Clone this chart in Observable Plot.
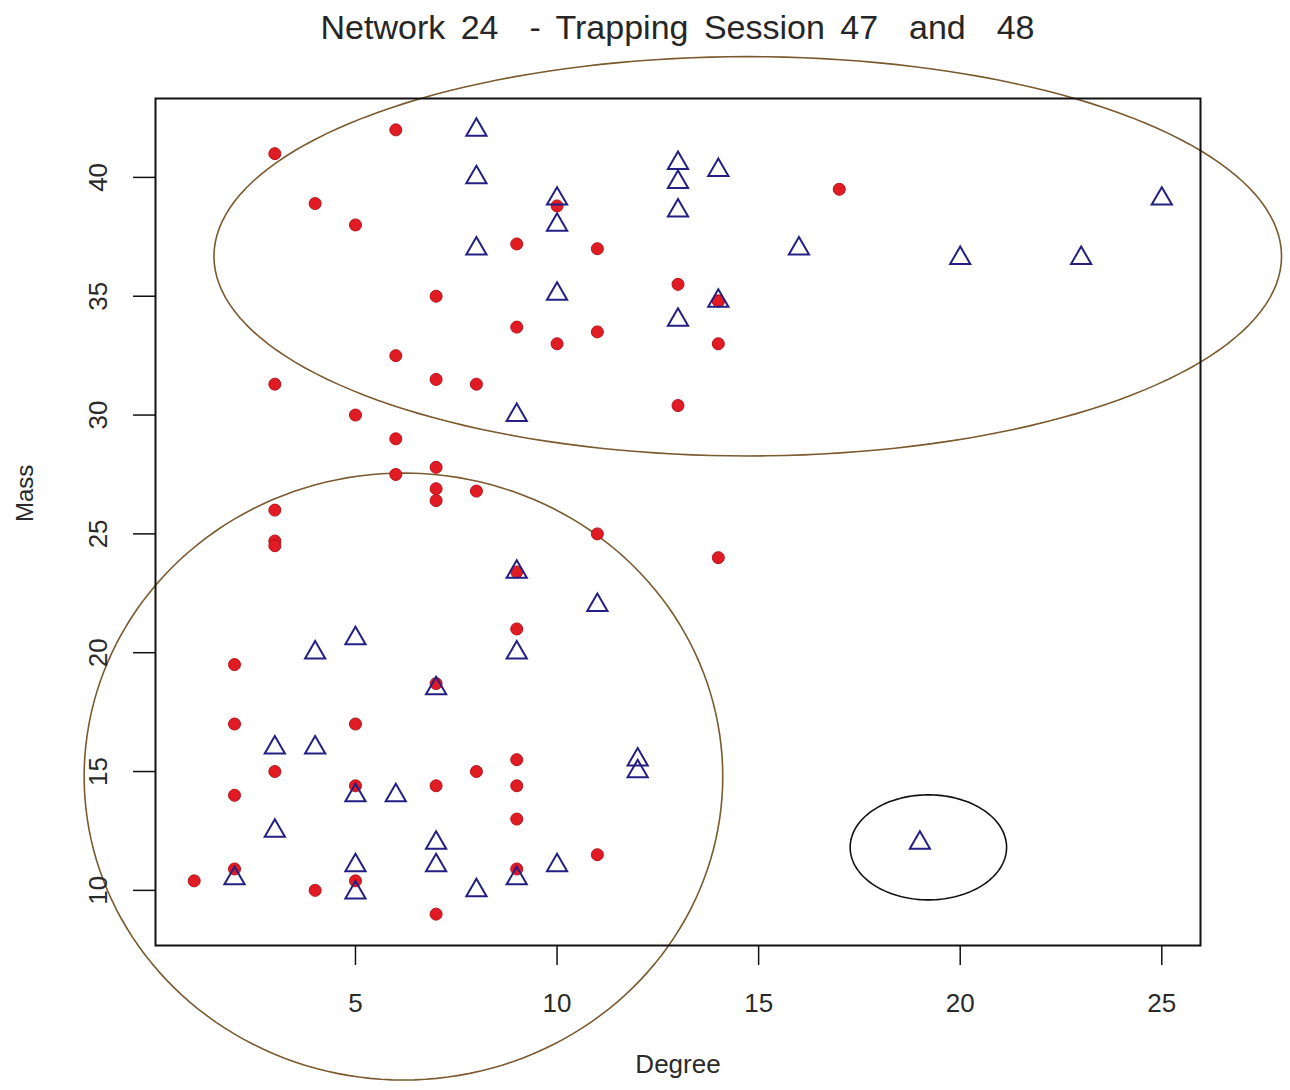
<!DOCTYPE html>
<html><head><meta charset="utf-8">
<script src="https://cdn.jsdelivr.net/npm/d3@7"></script>
<script src="https://cdn.jsdelivr.net/npm/@observablehq/plot@0.6"></script>
<style>
body{margin:0;background:#fff;font-family:"Liberation Sans",Arial,sans-serif;}
#title{height:50px;width:1290px;box-sizing:border-box;padding-left:155px;padding-right:90px;text-align:center;font-size:34px;word-spacing:6px;line-height:54px;color:#262626;white-space:pre;}
</style></head><body>
<div id="title">Network 24  - Trapping Session 47  and  48</div>
<div id="chart"></div>
<script>
// Red filled circles
const redDegree = [3,6,4,5,10,9,11,7,13,14,9,11,10,14,6,3,7,8,13,5,6,7,6,7,7,8,3,3,3,11,14,9,9,2,7,2,5,3,8,9,5,7,9,2,9,11,9,2,1,4,5,7,17,14];
const redMass   = [41.0,42.0,38.9,38.0,38.8,37.2,37.0,35.0,35.5,34.8,33.7,33.5,33.0,33.0,32.5,31.3,31.5,31.3,30.4,30.0,29.0,27.8,27.5,26.9,26.4,26.8,26.0,24.7,24.5,25.0,24.0,23.4,21.0,19.5,18.7,17.0,17.0,15.0,15.0,15.5,14.4,14.4,14.4,14.0,13.0,11.5,10.9,10.9,10.4,10.0,10.4,9.0,39.5,34.8];
// Blue open triangles
const blueDegree = [8,8,8,10,10,10,13,13,13,13,14,14,16,20,23,25,9,9,11,9,5,4,7,3,4,12,12,5,6,3,7,7,5,5,2,8,9,10,19];
const blueMass   = [42.0,40.0,37.0,39.1,38.0,35.1,40.6,39.8,38.6,34.0,40.3,34.8,37.0,36.6,36.6,39.1,30.0,23.4,22.0,20.0,20.6,20.0,18.5,16.0,16.0,15.5,15.0,14.0,14.0,12.5,12.0,11.05,11.05,9.9,10.5,10.0,10.5,11.05,12.0];
// Hand-drawn cluster ellipses (centre and radii in data units)
const ellipseCx = [14.73, 6.19, 19.21];
const ellipseCy = [36.68, 14.79, 11.81];
const ellipseRx = [13.24, 7.92, 1.94];
const ellipseRy = [8.40, 12.77, 2.21];
// Ticks
const xTicks = [5, 10, 15, 20, 25];
const yTicks = [10, 15, 20, 25, 30, 35, 40];

const reds = redDegree.map((d, i) => ({degree: d, mass: redMass[i]}));
const blues = blueDegree.map((d, i) => ({degree: d, mass: blueMass[i]}));

function pad(ext) { const r = ext[1] - ext[0]; return [ext[0] - 0.04 * r, ext[1] + 0.04 * r]; }
const xDomain = pad(d3.extent([...redDegree, ...blueDegree]));
const yDomain = pad(d3.extent([...redMass, ...blueMass]));

const ellipses = ellipseCx.map((cx, k) => d3.range(0, 360, 2).map(a => ({
  id: k,
  degree: cx + ellipseRx[k] * Math.cos(a * Math.PI / 180),
  mass: ellipseCy[k] + ellipseRy[k] * Math.sin(a * Math.PI / 180)
})));

const chart = Plot.plot({
  width: 1290, height: 1040,
  marginTop: 48, marginBottom: 145, marginLeft: 155, marginRight: 90,
  x: {domain: xDomain},
  y: {domain: yDomain},
  style: {fontFamily: "Liberation Sans, Arial, sans-serif", fontSize: "26px", color: "#2a2a2a", overflow: "visible", background: "#fff"},
  marks: [
    Plot.line([...ellipses[0], ...ellipses[1]], {x: "degree", y: "mass", z: "id", curve: "linear-closed", stroke: "#7a5a2e", strokeWidth: 1.6, clip: false}),
    Plot.line(ellipses[2], {x: "degree", y: "mass", curve: "linear-closed", stroke: "#111", strokeWidth: 1.6, clip: false}),
    Plot.frame({stroke: "#111", strokeWidth: 2}),
    Plot.axisX({ticks: xTicks, tickSize: 20, tickPadding: 38, lineAnchor: "middle", label: null, stroke: "#111", strokeWidth: 1.5, fontSize: 26}),
    Plot.axisY({ticks: yTicks, tickSize: 22, text: null, label: null, stroke: "#111", strokeWidth: 1.5}),
    Plot.axisY({ticks: yTicks, tickSize: 0, tickPadding: 57, rotate: -90, textAnchor: "middle", lineAnchor: "middle", label: null, fontSize: 26}),
    Plot.text(["Degree"], {frameAnchor: "bottom", dy: 127, fontSize: 26, fill: "#2a2a2a"}),
    Plot.text(["Mass"], {frameAnchor: "left", dx: -130, rotate: -90, fontSize: 24, fill: "#2a2a2a"}),
    Plot.dot(reds, {x: "degree", y: "mass", r: 6, fill: "#e01b24", stroke: "#b8121b", strokeWidth: 1}),
    Plot.dot(blues, {x: "degree", y: "mass", symbol: "triangle", r: 7.5, fill: "none", stroke: "#241f82", strokeWidth: 2})
  ]
});
document.getElementById("chart").appendChild(chart);
</script></body></html>
